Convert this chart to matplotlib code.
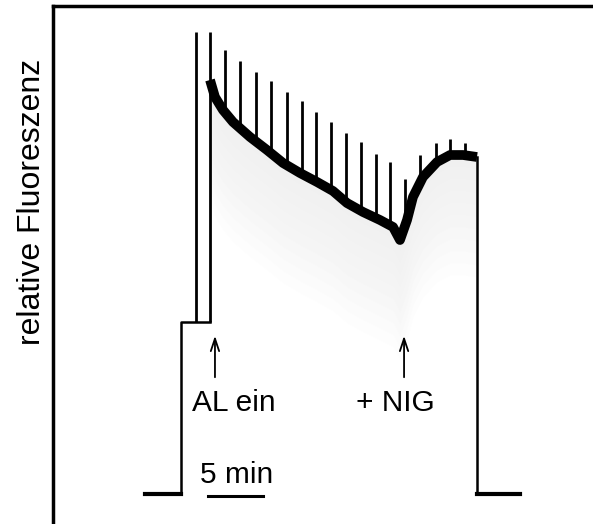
import numpy as np
import matplotlib.pyplot as plt

plt.rcParams['font.family'] = ['Liberation Sans', 'DejaVu Sans']

# time in min, fluorescence in relative units (dark level = 0)
dark_t = [0.0, 3.3]
step_F = 43.0
flash_t = [4.6, 5.91]
flash_top = 115.5

# fluorescence under actinic light
curve_t = [5.91, 6.36, 7.09, 8.0, 9.55, 11.09, 12.55, 14.09, 15.64, 17.09, 18.36,
           19.82, 21.36, 22.55, 23.18, 23.82, 24.36, 25.27, 26.55, 27.73, 28.91, 30.18]
curve_F = [103.5, 99.25, 96.0, 93.0, 89.25, 86.0, 82.75, 80.25, 78.0, 75.75, 72.75,
           70.5, 68.5, 66.75, 63.5, 68.5, 74.25, 79.25, 83.0, 84.75, 84.75, 84.25]

# saturating pulses
pulse_t = [7.27, 8.64, 10.09, 11.45, 12.91, 14.27, 15.55, 16.91, 18.27, 19.64,
           21.0, 22.27, 23.64, 25.0, 26.45, 27.73, 29.09]
pulse_top = [111, 108.25, 105.5, 103.25, 100.5, 98.25, 95.5, 93, 90.25, 88,
             85, 83, 78.75, 84.75, 87.75, 88.75, 87.75]

dark_end_t = [30.18, 34.1]

al_on_t = 6.36
nig_t = 23.55

fig = plt.figure(figsize=(5.93, 5.24), dpi=100)
ax = fig.add_axes([53 / 593, 0, 540 / 593, 518 / 524])
ax.set_xlim(-8.364, 40.727)
ax.set_ylim(-7.5, 122)

# faint grey shading under the trace
cf = np.array(curve_F)
for d in np.linspace(3, 30, 10):
    ax.fill_between(curve_t, cf, cf - d, color='0.8', alpha=0.025, lw=0)

# dark level, step and the two flashes
ax.plot(dark_t, [0, 0], color='black', lw=3)
ax.plot([dark_t[1], dark_t[1], curve_t[0]], [0, step_F, step_F], color='black', lw=1.8)
ax.vlines(flash_t, step_F, flash_top, color='black', lw=2)

# pulses sitting on the trace
pulse_base = np.interp(pulse_t, curve_t, curve_F)
ax.vlines(pulse_t, pulse_base, pulse_top, color='black', lw=2)

ax.plot(curve_t, curve_F, color='black', lw=7, solid_capstyle='butt', solid_joinstyle='round')

# light off
ax.plot([curve_t[-1], curve_t[-1]], [curve_F[-1], 0], color='black', lw=1.8)
ax.plot(dark_end_t, [0, 0], color='black', lw=3)

# arrows and labels
for t in [al_on_t, nig_t]:
    ax.annotate('', xy=(t, 40.25), xytext=(t, 28.5),
                arrowprops=dict(arrowstyle='->,head_length=0.9,head_width=0.3',
                                color='black', lw=1.3))
ax.text(8.1, 22.75, 'AL ein', ha='center', va='center', fontsize=21.5)
ax.text(22.8, 22.75, '+ NIG', ha='center', va='center', fontsize=21.5)

# 5 min scale bar
ax.plot([5.73, 10.73], [-0.5, -0.5], color='black', lw=2.2)
ax.text(8.36, 4.75, '5 min', ha='center', va='center', fontsize=21.5)

for side in ['right', 'bottom']:
    ax.spines[side].set_visible(False)
for side in ['left', 'top']:
    ax.spines[side].set_linewidth(2.5)
ax.set_xticks([])
ax.set_yticks([])

fig.text(32 / 593, 1 - 202 / 524, 'relative Fluoreszenz', rotation=90,
         ha='center', va='center', fontsize=23)

plt.savefig('out.png')
